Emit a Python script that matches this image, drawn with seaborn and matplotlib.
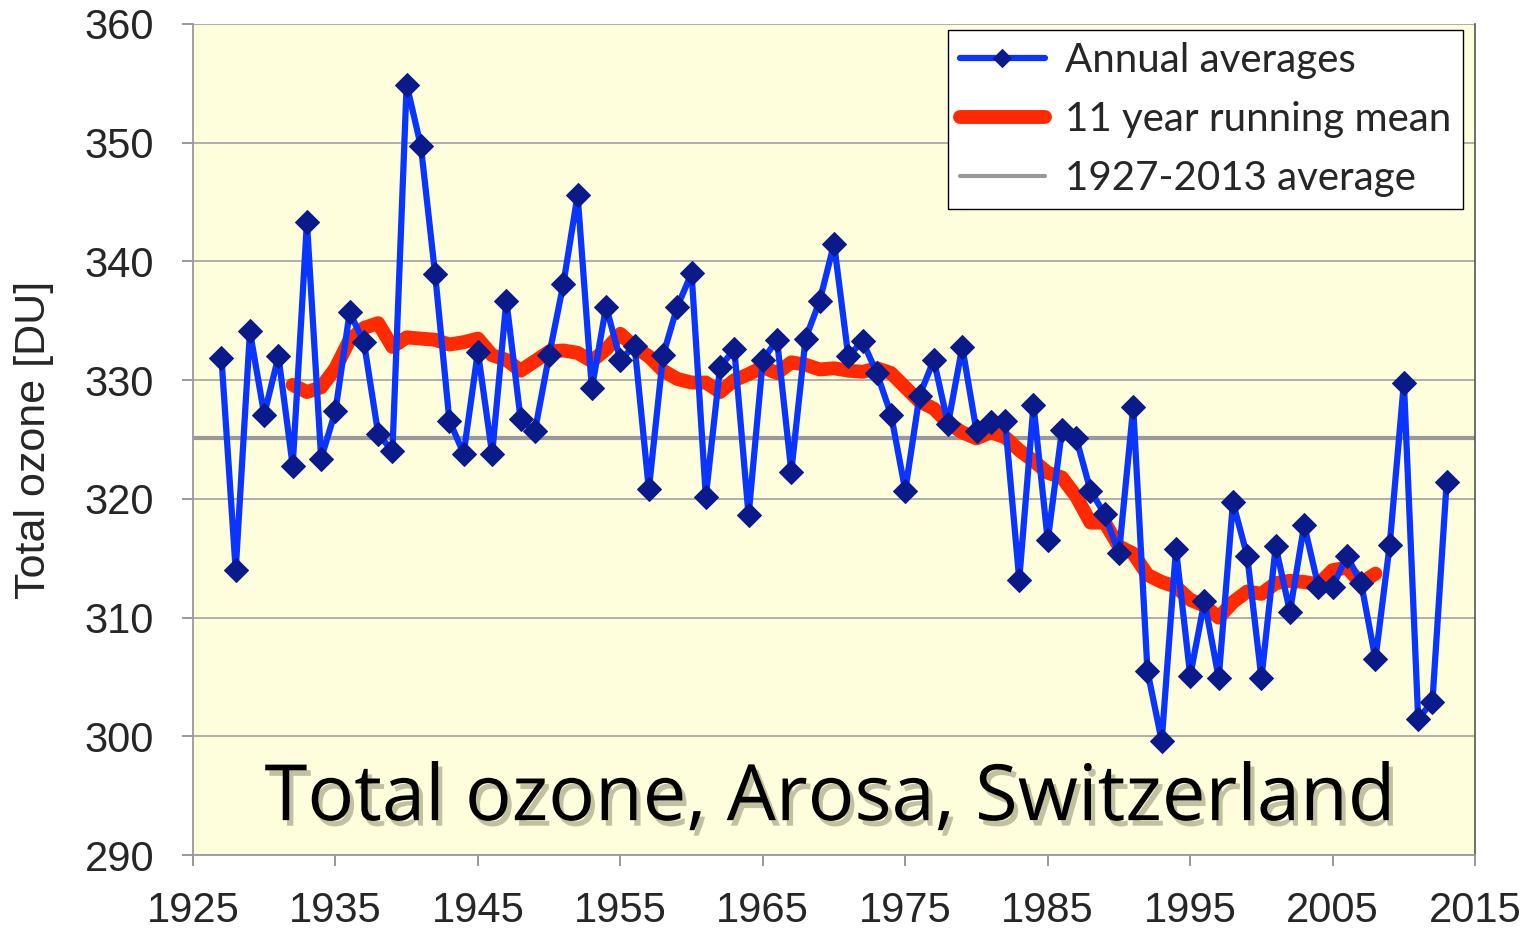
import numpy as np
import pandas as pd
import seaborn as sns
import matplotlib.pyplot as plt
import matplotlib.patheffects as pe

# Data
years = list(range(1927, 2014))
annual = [331.9, 314.0, 334.1, 327.1, 332.0, 322.8, 343.3, 323.4, 327.4, 335.7,
          333.2, 325.5, 324.0, 354.9, 349.7, 338.9, 326.6, 323.8, 332.4, 323.8,
          336.7, 326.7, 325.7, 332.1, 338.1, 345.6, 329.3, 336.2, 331.7, 332.9,
          320.8, 332.1, 336.2, 339.0, 320.2, 331.1, 332.6, 318.6, 331.7, 333.4,
          322.3, 333.5, 336.7, 341.5, 332.0, 333.3, 330.6, 327.1, 320.7, 328.7,
          331.7, 326.3, 332.8, 325.7, 326.5, 326.6, 313.2, 327.9, 316.5, 325.8,
          325.1, 320.7, 318.7, 315.4, 327.7, 305.5, 299.6, 315.8, 305.1, 311.4,
          304.9, 319.7, 315.2, 304.9, 316.0, 310.5, 317.8, 312.6, 312.6, 315.2,
          312.9, 306.5, 316.1, 329.8, 301.5, 302.9, 321.4]

mean_years = list(range(1932, 2009))
running_mean = [329.6, 329.0, 329.4, 331.0, 333.4, 334.4, 334.8, 332.8, 333.6, 333.5,
                333.4, 333.0, 333.2, 333.5, 332.1, 331.7, 330.8, 331.6, 332.4, 332.5,
                332.3, 331.6, 332.6, 333.9, 332.8, 332.0, 330.8, 330.1, 329.8, 329.8,
                329.0, 330.0, 330.5, 331.1, 330.6, 331.5, 331.3, 330.9, 331.0, 330.8,
                330.7, 331.0, 330.6, 329.4, 328.2, 327.6, 326.4, 325.6, 325.1, 325.6,
                325.2, 324.1, 323.2, 322.2, 321.8, 320.2, 318.0, 318.0, 316.0, 315.4,
                313.6, 313.0, 312.6, 311.5, 311.0, 310.0, 311.3, 312.2, 312.0, 312.9,
                313.1, 313.0, 312.8, 314.0, 314.2, 312.9, 313.7]

long_term_avg = 325.1
x_ticks = list(range(1925, 2016, 10))
y_ticks = list(range(290, 361, 10))

df_annual = pd.DataFrame({"year": years, "ozone": annual})
df_mean = pd.DataFrame({"year": mean_years, "ozone": running_mean})

sns.set_theme(style="white")
plt.rcParams["font.family"] = ["Liberation Sans", "DejaVu Sans"]

fig, ax = plt.subplots(figsize=(15.35, 9.3), dpi=100)
fig.subplots_adjust(left=0.1257, right=0.961, top=0.9742, bottom=0.0806)
ax.set_facecolor("#FEFEDC")

# Long term average line
ax.axhline(long_term_avg, color="#999999", linewidth=3, zorder=2,
           label="1927-2013 average")

# Annual averages
sns.lineplot(data=df_annual, x="year", y="ozone", ax=ax, color="#0A34FF",
             linewidth=4.5, marker="D", markersize=12.5, markerfacecolor="#0B1A8A",
             markeredgecolor="#0B1A8A", label="Annual averages", zorder=4)

# Running mean
sns.lineplot(data=df_mean, x="year", y="ozone", ax=ax, color="#FF2A00",
             linewidth=10, solid_capstyle="round", label="11 year running mean",
             zorder=3)

ax.set_xlim(1925, 2015)
ax.set_ylim(290, 360)
ax.set_xticks(x_ticks)
ax.set_yticks(y_ticks)
ax.tick_params(axis="both", labelsize=30, length=8, width=1.2, color="#888888",
               direction="out", bottom=True, left=True)
ax.tick_params(axis="x", pad=18)
ax.tick_params(axis="y", pad=20)
ax.yaxis.grid(True, color="#A8A8A8", linewidth=1.3)
ax.xaxis.grid(False)
for side in ["left", "bottom"]:
    ax.spines[side].set_color("#999999")
    ax.spines[side].set_linewidth(1.3)
ax.spines["right"].set_color("#555555")
ax.spines["right"].set_linewidth(1.2)
ax.spines["top"].set_visible(False)

ax.set_xlabel("")
ax.set_ylabel("Total ozone [DU]", fontsize=31, labelpad=22)

# Order legend entries
handles, labels = ax.get_legend_handles_labels()
order = ["Annual averages", "11 year running mean", "1927-2013 average"]
hmap = dict(zip(labels, handles))
leg = ax.legend([hmap[k] for k in order], order, loc="upper right",
                bbox_to_anchor=(0.9906, 0.9928), frameon=True,
                fancybox=False, framealpha=1, edgecolor="black",
                handlelength=2.1, borderpad=0.3, labelspacing=0.55,
                handletextpad=0.5, borderaxespad=0,
                prop={"family": ["Lato", "DejaVu Sans"], "size": 29})
leg.get_frame().set_linewidth(1.0)
for h in leg.legend_handles:
    if h.get_marker() == "D":
        h.set_markersize(9)

# Big caption inside the plot
ax.text(0.497, 0.042, "Total ozone, Arosa, Switzerland", transform=ax.transAxes,
        ha="center", va="baseline", fontsize=56, color="black",
        family=["Open Sans", "DejaVu Sans"],
        path_effects=[pe.SimplePatchShadow(offset=(3, -4), shadow_rgbFace="#666644",
                                           alpha=0.4), pe.Normal()], zorder=5)

fig.savefig("out.png", dpi=100, facecolor="white")
